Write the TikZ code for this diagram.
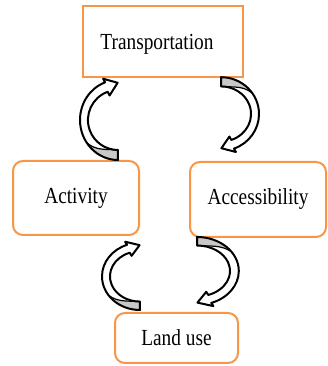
\documentclass[tikz,border=0pt]{standalone}
\usepackage{fontspec}
\setmainfont{Liberation Serif}[FakeStretch=0.84]

\definecolor{boxorange}{HTML}{F79646}
\definecolor{arrowgray}{HTML}{C8C8C8}

\tikzset{
  % curved block arrow, tail at the bottom right, head at the top right
  loop arrow/.pic={
    \fill[arrowgray] (0,-40) arc[start angle=270, end angle=215, x radius=38, y radius=40]
        to[out=-40, in=175] (0,-30) -- cycle;
    \draw[line width=1.2pt] (-31.1,-22.9) to[out=-40, in=175] (0,-30);
    \draw[line width=2pt, line join=round]
        (0,-40) arc[start angle=270, end angle=110, x radius=38, y radius=40]
        -- (-14.9,41.3) -- (-0.4,37.2) -- (-8.4,24.5) -- (-10.3,28.2)
        arc[start angle=110, end angle=270, x radius=30, y radius=30] -- cycle;
  }
}

\begin{document}
\begin{tikzpicture}[x=1pt, y=1pt,
    box/.style={draw=boxorange, line width=2pt, align=center,
                font=\fontsize{23}{27}\selectfont},
    roundbox/.style={box, rounded corners=10pt}]

    \useasboundingbox (0,0) rectangle (328,366);

    % the four boxes
    \node[box, minimum width=160, minimum height=71,
          label={[font=\fontsize{23}{27}\selectfont, xshift=-6, yshift=-3]center:Transportation}]
          (trans) at (163,324.5) {};
    \node[roundbox, minimum width=126, minimum height=74] (act) at (76,168) {Activity};
    \node[roundbox, minimum width=136, minimum height=75] (acc) at (258,166.5) {Accessibility};
    \node[roundbox, minimum width=123, minimum height=50] (land) at (176.5,28) {Land use};

    % curved arrows between the boxes
    \pic at (118,246) {loop arrow};
    \pic[rotate=180, yscale=0.92] at (221,252) {loop arrow};
    \pic[yscale=0.84] at (140,89.6) {loop arrow};
    \pic[rotate=180, yscale=0.85, xscale=1.1] at (197,95) {loop arrow};

\end{tikzpicture}
\end{document}
